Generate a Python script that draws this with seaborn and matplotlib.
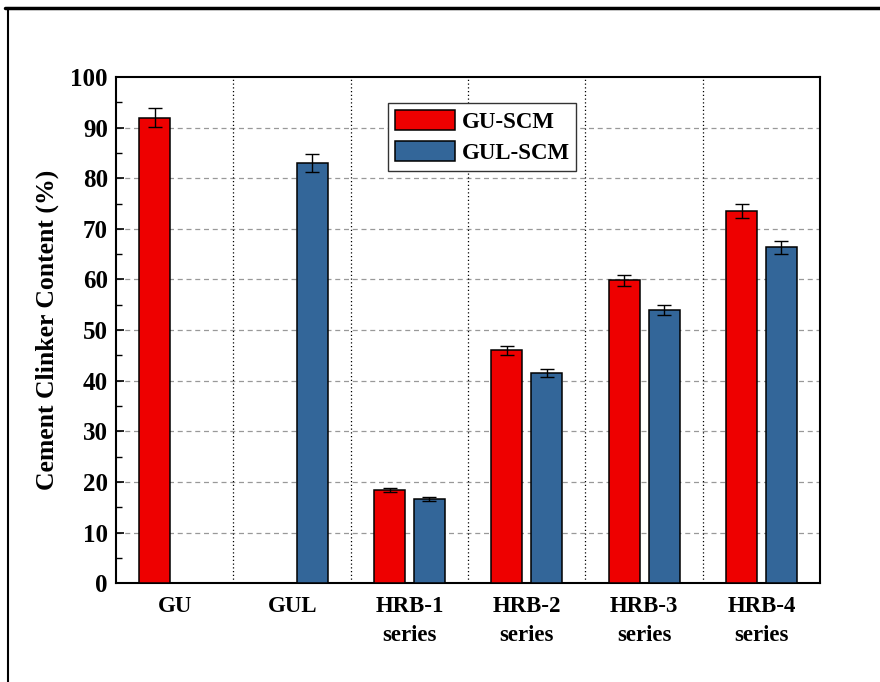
import matplotlib
matplotlib.use("Agg")
import matplotlib.pyplot as plt
import seaborn as sns
import pandas as pd
import numpy as np
from matplotlib.lines import Line2D

categories = ["GU", "GUL", "HRB-1\nseries", "HRB-2\nseries", "HRB-3\nseries", "HRB-4\nseries"]
series_names = ["GU-SCM", "GUL-SCM"]
gu_scm = [92.0, np.nan, 18.4, 46.0, 59.8, 73.6]
gu_scm_err = [1.9, np.nan, 0.4, 0.9, 1.1, 1.4]
gul_scm = [np.nan, 83.0, 16.7, 41.5, 54.0, 66.4]
gul_scm_err = [np.nan, 1.7, 0.4, 0.8, 1.0, 1.3]
y_ticks = [0, 10, 20, 30, 40, 50, 60, 70, 80, 90, 100]

colors = {"GU-SCM": "#EE0000", "GUL-SCM": "#336699"}

df = pd.DataFrame({
    "category": categories * 2,
    "series": [series_names[0]] * 6 + [series_names[1]] * 6,
    "value": gu_scm + gul_scm,
    "err": gu_scm_err + gul_scm_err,
})

sns.set_style("white")
plt.rcParams["font.family"] = ["Liberation Serif", "DejaVu Serif"]
plt.rcParams["font.weight"] = "bold"
plt.rcParams["text.color"] = "black"
plt.rcParams["axes.labelcolor"] = "black"
plt.rcParams["xtick.color"] = "black"
plt.rcParams["ytick.color"] = "black"

fig = plt.figure(figsize=(8.8, 6.82), dpi=100)
ax = fig.add_axes([0.132, 0.145, 0.8, 0.742])

sns.barplot(data=df, x="category", y="value", hue="series", order=categories,
            hue_order=series_names, palette=colors, saturation=1, width=0.68, gap=0.22,
            edgecolor="black", linewidth=1.1, errorbar=None, ax=ax, zorder=3)

# error bars at bar centers
series_vals = {series_names[0]: (gu_scm, gu_scm_err), series_names[1]: (gul_scm, gul_scm_err)}
for container, name in zip(ax.containers, series_names):
    vals, errs = series_vals[name]
    for bar in container:
        cx = bar.get_x() + bar.get_width() / 2
        i = int(round(cx))
        if np.isnan(vals[i]):
            continue
        ax.errorbar(cx, vals[i], yerr=errs[i], fmt="none", ecolor="black",
                    elinewidth=1.0, capsize=5, capthick=1.0, zorder=4)

ax.set_xlim(-0.5, len(categories) - 0.5)
ax.set_ylim(0, 100)
ax.set_yticks(y_ticks)
ax.set_yticks(np.arange(5, 100, 10), minor=True)
ax.set_xlabel("")
ax.set_ylabel("Cement Clinker Content (%)", fontsize=18.5, fontweight="bold", labelpad=8)

ax.set_xticks(range(len(categories)))
ax.set_xticklabels(categories, fontsize=16.5, fontweight="bold", linespacing=1.5)
for lbl in ax.get_yticklabels():
    lbl.set_fontsize(18)
    lbl.set_fontweight("bold")

ax.tick_params(axis="y", which="major", direction="in", length=6, width=1.2, left=True, right=False, pad=6)
ax.tick_params(axis="y", which="minor", direction="in", length=4, width=1.0, left=True, right=False)
ax.tick_params(axis="x", which="both", bottom=False, top=False, pad=6)

for s in ax.spines.values():
    s.set_visible(True)
    s.set_color("black")
    s.set_linewidth(1.5)

# grid
for yv in y_ticks[1:-1]:
    ax.axhline(yv, color="#999999", linestyle=(0, (4, 3)), linewidth=0.9, zorder=0)
for i in range(len(categories) - 1):
    ax.axvline(i + 0.5, color="black", linestyle=(0, (1, 2)), linewidth=0.9, zorder=0)

leg = ax.legend(loc="upper left", bbox_to_anchor=(0.441, 0.849), bbox_transform=fig.transFigure,
                prop={"weight": "bold", "size": 16.5}, frameon=True, fancybox=False,
                handlelength=2.6, handleheight=1.0, borderpad=0.3, labelspacing=0.35,
                handletextpad=0.3, borderaxespad=0)
leg.get_frame().set_edgecolor("#333333")
leg.get_frame().set_linewidth(1.0)
leg.get_frame().set_alpha(1)
for h in leg.get_patches():
    h.set_edgecolor("black")
leg.set_zorder(10)

# outer frame lines
fig.add_artist(Line2D([0.006, 1.0], [0.988, 0.988], transform=fig.transFigure, color="black", linewidth=2.5))
fig.add_artist(Line2D([0.009, 0.009], [0.0, 0.988], transform=fig.transFigure, color="black", linewidth=1.5))

fig.savefig("out.png", dpi=100)
